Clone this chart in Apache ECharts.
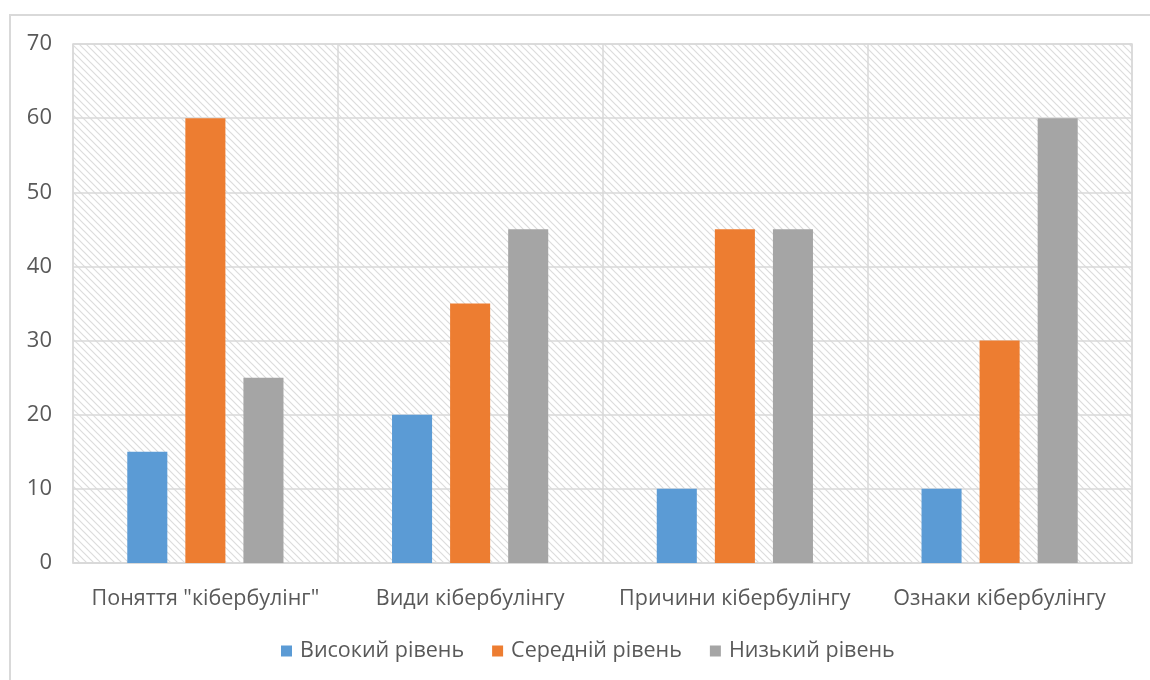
<!DOCTYPE html>
<html><head><meta charset="utf-8">
<script src="https://cdn.jsdelivr.net/npm/echarts@6/dist/echarts.min.js"></script>
<style>
html,body{margin:0;padding:0;background:#fff;}
#frame{position:absolute;left:9px;top:14px;width:1150px;height:680px;border:2px solid #d9d9d9;box-sizing:border-box;}
#c{position:absolute;left:0;top:0;width:1150px;height:680px;}
</style>
</head><body>
<div id="frame"></div>
<div id="c"></div>
<script>
const categories = ['Поняття "кібербулінг"', 'Види кібербулінгу', 'Причини кібербулінгу', 'Ознаки кібербулінгу'];
const seriesNames = ['Високий рівень', 'Середній рівень', 'Низький рівень'];
const high = [15, 20, 10, 10];
const mid = [60, 35, 45, 30];
const low = [25, 45, 45, 60];
const colors = ['#5B9BD5', '#ED7D31', '#A5A5A5'];

const pc = document.createElement('canvas');
pc.width = 7; pc.height = 7;
const ctx = pc.getContext('2d');
ctx.fillStyle = '#ffffff';
ctx.fillRect(0, 0, 7, 7);
ctx.strokeStyle = '#dcdcdc';
ctx.lineWidth = 1.2;
ctx.beginPath();
ctx.moveTo(-1, -1); ctx.lineTo(8, 8);
ctx.moveTo(-8, -1); ctx.lineTo(1, 8);
ctx.moveTo(6, -1); ctx.lineTo(15, 8);
ctx.stroke();

const chart = echarts.init(document.getElementById('c'));
const font = '"Open Sans", "Noto Sans", sans-serif';
chart.setOption({
  animation: false,
  textStyle: { fontFamily: font },
  color: colors,
  grid: {
    left: 73, right: 18, top: 44, bottom: 117,
    show: true,
    backgroundColor: { image: pc, repeat: 'repeat' },
    borderColor: '#d9d9d9', borderWidth: 1.5
  },
  legend: {
    bottom: 13, left: 276,
    itemWidth: 11, itemHeight: 11, itemGap: 28,
    icon: 'rect',
    textStyle: { color: '#595959', fontSize: 21.5, fontFamily: font, padding: [0, 0, 0, 3] },
    data: seriesNames
  },
  xAxis: {
    type: 'category', data: categories,
    axisLine: { show: true, lineStyle: { color: '#d9d9d9', width: 1.5 } },
    axisTick: { show: false },
    splitLine: { show: true, lineStyle: { color: '#d9d9d9', width: 1.5 } },
    axisLabel: { color: '#595959', fontSize: 21.5, margin: 25, interval: 0 }
  },
  yAxis: {
    type: 'value', min: 0, max: 70, interval: 10,
    axisLine: { show: false }, axisTick: { show: false },
    splitLine: { lineStyle: { color: '#d9d9d9', width: 1.5 } },
    axisLabel: { color: '#595959', fontSize: 22, margin: 21 }
  },
  series: [
    { name: seriesNames[0], type: 'bar', data: high, barGap: '45%', barCategoryGap: '41%' },
    { name: seriesNames[1], type: 'bar', data: mid, barGap: '45%', barCategoryGap: '41%' },
    { name: seriesNames[2], type: 'bar', data: low, barGap: '45%', barCategoryGap: '41%' }
  ]
});
</script>
</body></html>
